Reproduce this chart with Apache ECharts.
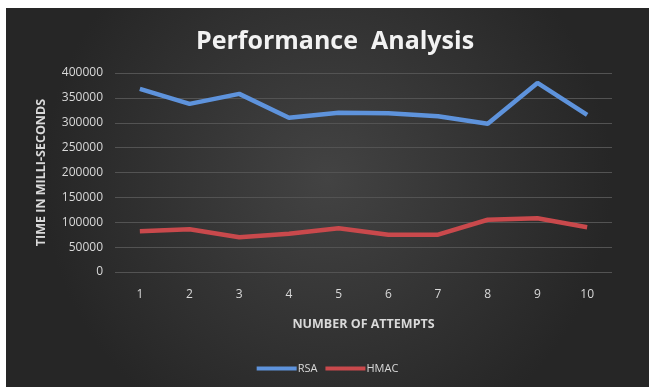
<!DOCTYPE html>
<html>
<head>
<meta charset="utf-8">
<script src="https://cdn.jsdelivr.net/npm/echarts@6/dist/echarts.min.js"></script>
<style>
html,body{margin:0;padding:0;background:#ffffff;}
#chart{position:absolute;left:6px;top:8px;width:643px;height:379px;}
</style>
</head>
<body>
<div id="chart"></div>
<script>
const categories = ['1','2','3','4','5','6','7','8','9','10'];
const rsa  = [368000, 338000, 358000, 310000, 320000, 319000, 313000, 298000, 380000, 316000];
const hmac = [82000, 86000, 70000, 77000, 88000, 75000, 75000, 105000, 108000, 90000];
const yTicks = [0, 50000, 100000, 150000, 200000, 250000, 300000, 350000, 400000];

const chart = echarts.init(document.getElementById('chart'));
const txt = '#d9d9d9';
const font = 'Open Sans';
chart.setOption({
  backgroundColor: {
    type: 'radial', x: 0.5, y: 0.45, r: 0.75,
    colorStops: [{offset: 0, color: '#434343'}, {offset: 1, color: '#262626'}]
  },
  title: {
    text: 'Performance  Analysis',
    left: 324, top: 16, textAlign: 'center',
    textStyle: {color: '#f2f2f2', fontSize: 25, fontWeight: 'bold', fontFamily: font}
  },
  legend: {
    data: ['RSA', 'HMAC'],
    bottom: 8, left: 'center',
    itemWidth: 40, itemHeight: 4, itemGap: 8,
    icon: 'rect',
    textStyle: {color: txt, fontSize: 11, fontFamily: font, padding: [0,0,0,-4]}
  },
  grid: {left: 109, right: 37, top: 65, bottom: 115},
  xAxis: {
    type: 'category', data: categories, boundaryGap: true,
    name: 'NUMBER OF ATTEMPTS', nameLocation: 'middle', nameGap: 46,
    nameTextStyle: {color: txt, fontSize: 12.5, fontWeight: 'bold', fontFamily: font},
    axisLine: {show: false}, axisTick: {show: false},
    axisLabel: {color: txt, fontSize: 12, margin: 17, fontFamily: font}
  },
  yAxis: {
    type: 'value', min: yTicks[0], max: yTicks[yTicks.length-1], interval: 50000,
    name: 'TIME IN MILLI-SECONDS', nameLocation: 'middle', nameGap: 67, nameRotate: 90,
    nameTextStyle: {color: txt, fontSize: 12.5, fontWeight: 'bold', fontFamily: font},
    axisLine: {show: false}, axisTick: {show: false},
    axisLabel: {color: txt, fontSize: 12, margin: 12, fontFamily: font, formatter: v => String(v)},
    splitLine: {lineStyle: {color: '#535353', width: 1}}
  },
  series: [
    {name: 'RSA', type: 'line', data: rsa, symbol: 'none',
     lineStyle: {color: '#5e93dc', width: 4.5}, itemStyle: {color: '#5e93dc'}},
    {name: 'HMAC', type: 'line', data: hmac, symbol: 'none',
     lineStyle: {color: '#c9494c', width: 4.5}, itemStyle: {color: '#c9494c'}}
  ]
});
</script>
</body>
</html>
